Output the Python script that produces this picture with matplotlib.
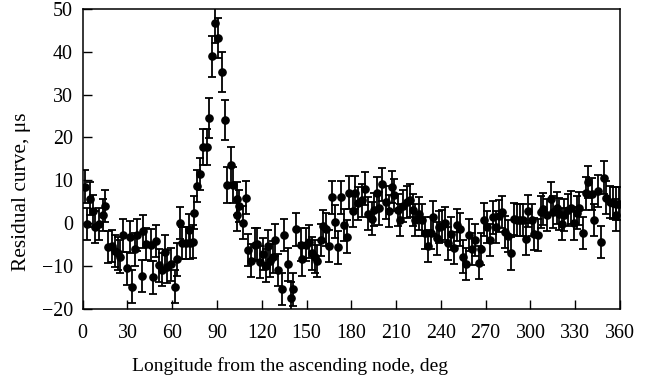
import matplotlib
matplotlib.use("Agg")
import matplotlib.pyplot as plt

longitude = [1.6, 2.7, 5.1, 7.1, 8.5, 11.0, 13.4, 15.2, 17.0, 19.9, 21.9, 23.4, 25.2, 27.2, 29.5,
             31.5, 33.0, 35.0, 36.6, 39.5, 40.6, 42.4, 45.6, 47.3, 49.1, 51.1, 53.1, 55.2, 56.7, 59.0,
             61.9, 63.2, 65.2, 66.6, 69.2, 71.0, 72.0, 73.7, 74.8, 76.8, 78.6, 80.4, 83.1, 84.9, 86.5,
             88.9, 90.9, 93.2, 95.4, 96.5, 99.4, 101.0, 103.2, 103.6, 104.8, 107.2, 109.2, 111.0, 112.8,
             115.5, 117.0, 118.8, 120.6, 122.9, 124.4, 125.6, 127.3, 128.7, 131.1, 133.4, 135.0, 137.4,
             139.4, 140.7, 143.2, 146.1, 147.2, 149.5, 151.7, 153.5, 155.7, 157.2, 159.5, 160.8, 163.1,
             165.3, 166.9, 169.1, 171.3, 172.9, 175.1, 176.9, 178.7, 181.0, 182.5, 184.7, 187.0, 189.3,
             191.2, 193.7, 195.2, 197.0, 198.8, 200.8, 203.3, 205.1, 207.1, 208.9, 211.1, 212.7, 214.9,
             217.2, 219.4, 221.0, 222.7, 225.0, 227.2, 229.4, 231.2, 233.2, 235.0, 237.3, 239.0, 240.8,
             243.0, 245.0, 247.0, 249.0, 250.7, 252.9, 254.7, 256.9, 258.8, 260.7, 263.0, 265.2, 267.0,
             269.0, 271.2, 273.0, 274.8, 277.0, 278.6, 280.8, 283.0, 284.9, 286.9, 289.1, 291.3, 293.1,
             295.3, 297.1, 298.7, 300.9, 302.5, 304.9, 306.9, 308.7, 311.0, 313.5, 315.4, 317.7, 319.4,
             321.0, 322.8, 325.5, 327.1, 329.3, 331.1, 332.8, 334.9, 337.3, 338.9, 341.2, 342.9, 345.2,
             347.2, 349.0, 350.8, 353.0, 355.2, 357.0, 357.6, 359.2]

residual = [8.5, -0.3, 5.7, 2.8, -1.0, -0.3, 1.9, 4.0, -5.6, -5.4, -6.6, -7.1, -7.9, -2.9, -10.6,
            -3.3, -14.9, -6.2, -2.8, -12.4, -2.0, -4.9, -5.2, -12.7, -4.2, -9.9, -10.9, -6.7, -10.2, -9.7,
            -14.9, -8.5, 0.0, -4.7, -4.7, -1.6, -4.7, -4.4, 2.4, 8.6, 11.4, 17.8, 17.8, 24.5, 38.9,
            46.8, 43.3, 35.3, 24.1, 8.8, 13.6, 8.8, 5.7, 1.8, 4.0, 0.1, 5.9, -6.3, -8.8,
            -5.1, -4.9, -9.1, -7.3, -10.0, -5.5, -8.8, -8.0, -4.0, -11.0, -15.4, -2.8, -9.7,
            -17.6, -15.5, -1.5, -5.1, -8.5, -5.1, -4.4, -7.1, -7.9, -8.9, -4.0, -0.7, -1.5,
            -5.4, 6.0, 0.3, -5.7, 6.0, -0.5, -3.2, 7.1, 2.8, 7.1, 4.6, 5.3, 8.0,
            2.2, 1.0, 3.1, 7.0, 3.4, 9.0, 4.8, 2.8, 8.4, 6.5, 3.0, 0.7, 4.0,
            4.9, 5.3, 3.0, 0.7, 2.2, 0.7, -2.4, -5.4, -2.4, 1.3, -3.6, -1.0, -0.7,
            -0.1, -4.8, -2.5, -5.9, -0.5, -1.5, -7.9, -9.6, -2.8, -6.1, -4.0, -9.3, -6.1,
            0.8, -1.0, -4.0, 1.3, -1.0, 1.6, 2.6, -2.1, -3.1, -7.1, 0.9, 0.7, 0.7,
            0.7, -3.8, 2.8, 0.7, -2.6, -2.8, 2.6, 3.2, 1.8, 5.7, 2.6, 3.5, 2.1,
            -0.3, 1.8, 3.0, 3.6, -0.1, 2.4, 3.4, -2.4, 6.9, 9.6, 6.8, 0.7, 7.5,
            -4.5, 10.6, 5.9, 4.9, 4.7, 1.9, 4.5, 4.5]

error = [3.8] * 41 + [4.2, 4.2, 4.7, 4.7, 4.7, 4.7, 4.7, 4.7, 4.2, 4.2, 4.2] + [3.8] * (len(longitude) - 52)

x_ticks = [0, 30, 60, 90, 120, 150, 180, 210, 240, 270, 300, 330, 360]
y_ticks = [-20, -10, 0, 10, 20, 30, 40, 50]

plt.rcParams['font.family'] = ['Liberation Serif', 'DejaVu Serif']

fig = plt.figure(figsize=(6.59, 3.85), dpi=100)
ax = fig.add_axes([0.1255, 0.1987, 0.8153, 0.7779])

ax.errorbar(longitude, residual, yerr=error, fmt='o', color='black', ecolor='black',
            markersize=5.2, elinewidth=1.3, capsize=3.2, capthick=1.3, clip_on=True)

ax.set_xlim(0, 360)
ax.set_ylim(-20, 50)
ax.set_xticks(x_ticks)
ax.set_yticks(y_ticks)
ax.set_yticklabels([str(v).replace('-', '\u2212') for v in y_ticks])
ax.tick_params(axis='both', direction='in', length=6.5, width=1.0, labelsize=14.4,
               colors='black')
ax.tick_params(axis='x', pad=11)
ax.tick_params(axis='y', pad=7)
for s in ax.spines.values():
    s.set_linewidth(1.1)

fig.text(290 / 659, 1 - 366 / 385, 'Longitude from the ascending node, deg',
         ha='center', va='center', fontsize=14)
fig.text(22 / 659, 1 - 192 / 385, 'Residual curve, \u03bcs', rotation=90,
         ha='center', va='center', fontsize=15.4)

fig.savefig('out.png', dpi=100)
